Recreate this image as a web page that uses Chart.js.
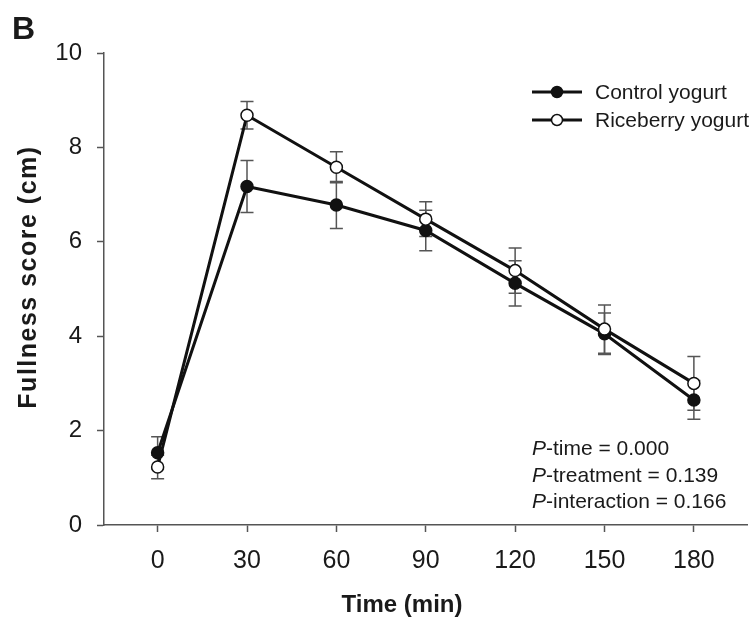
<!DOCTYPE html>
<html>
<head>
<meta charset="utf-8">
<script src="https://cdn.jsdelivr.net/npm/chart.js@4/dist/chart.umd.min.js"></script>
<style>
  body { margin: 0; background: #fff; }
  #fullness { display: block; }
</style>
</head>
<body>
<canvas id="fullness" width="755" height="620"></canvas>
<script>
// time points (min) and fullness scores (mean ± SE)
const times = [0, 30, 60, 90, 120, 150, 180];
const controlMean = [1.53, 7.17, 6.78, 6.24, 5.12, 4.05, 2.65];
const controlSE = [0.34, 0.55, 0.50, 0.43, 0.48, 0.44, 0.41];
const riceMean = [1.23, 8.68, 7.58, 6.48, 5.39, 4.15, 3.00];
const riceSE = [0.25, 0.29, 0.33, 0.37, 0.48, 0.51, 0.57];
const yTicks = [0, 2, 4, 6, 8, 10];
const seriesNames = ['Control yogurt', 'Riceberry yogurt'];
const xTitle = 'Time (min)';
const yTitle = 'Fullness score (cm)';
const pValues = [
    ['P', '-time = 0.000'],
    ['P', '-treatment = 0.139'],
    ['P', '-interaction = 0.166'],
];

const FONT = '"Liberation Sans", Arial, sans-serif';
const INK = '#111';
const TEXT = '#1a1a1a';
const AXIS = '#555';

const toPoints = (means) => times.map((t, i) => ({ x: t, y: means[i] }));

// SE whiskers with caps, drawn under the lines and markers
const errorBars = {
    id: 'errorBars',
    beforeDatasetsDraw(chart) {
        const { ctx, scales: { x, y } } = chart;
        const groups = [[controlMean, controlSE], [riceMean, riceSE]];
        ctx.save();
        ctx.strokeStyle = AXIS;
        ctx.lineWidth = 1.5;
        groups.forEach(([mean, se]) => {
            times.forEach((t, i) => {
                const px = x.getPixelForValue(t);
                const top = y.getPixelForValue(mean[i] + se[i]);
                const bot = y.getPixelForValue(mean[i] - se[i]);
                ctx.beginPath();
                ctx.moveTo(px, top); ctx.lineTo(px, bot);
                ctx.moveTo(px - 6.5, top); ctx.lineTo(px + 6.5, top);
                ctx.moveTo(px - 6.5, bot); ctx.lineTo(px + 6.5, bot);
                ctx.stroke();
            });
        });
        ctx.restore();
    }
};

// panel letter, axis titles, legend and the statistics block
const annotations = {
    id: 'annotations',
    afterDraw(chart) {
        const { ctx } = chart;
        ctx.save();
        ctx.fillStyle = TEXT;
        ctx.textBaseline = 'alphabetic';
        ctx.textAlign = 'left';
        ctx.font = 'bold 32px ' + FONT;
        ctx.fillText('B', 12, 39);

        // axis titles
        ctx.textAlign = 'center';
        ctx.textBaseline = 'middle';
        ctx.font = 'bold 24px ' + FONT;
        ctx.fillText(xTitle, 402, 605);
        ctx.save();
        ctx.font = 'bold 25px ' + FONT;
        ctx.letterSpacing = '1.5px';
        ctx.translate(29, 277);
        ctx.rotate(-Math.PI / 2);
        ctx.fillText(yTitle, 0, 0);
        ctx.restore();

        // legend
        ctx.textAlign = 'left';
        ctx.font = '21px ' + FONT;
        chart.data.datasets.forEach((ds, i) => {
            const cy = 92 + i * 28;
            ctx.strokeStyle = INK;
            ctx.lineWidth = 3;
            ctx.beginPath();
            ctx.moveTo(532, cy); ctx.lineTo(582, cy);
            ctx.stroke();
            ctx.beginPath();
            ctx.arc(557, cy, 5.5, 0, Math.PI * 2);
            ctx.fillStyle = ds.pointBackgroundColor;
            ctx.fill();
            ctx.lineWidth = 1.5;
            ctx.stroke();
            ctx.fillStyle = TEXT;
            ctx.textBaseline = 'middle';
            ctx.fillText(seriesNames[i], 595, cy + 1);
        });

        // P values
        ctx.textBaseline = 'alphabetic';
        pValues.forEach(([p, rest], i) => {
            const by = 455 + i * 26.5;
            ctx.font = 'italic 21px ' + FONT;
            ctx.fillText(p, 532, by);
            const w = ctx.measureText(p).width;
            ctx.font = '21px ' + FONT;
            ctx.fillText(rest, 532 + w, by);
        });
        ctx.restore();
    }
};

new Chart(document.getElementById('fullness'), {
    type: 'line',
    data: {
        datasets: [
            {
                label: seriesNames[0],
                data: toPoints(controlMean),
                borderColor: INK,
                borderWidth: 3,
                pointRadius: 6,
                pointBorderWidth: 1.5,
                pointBorderColor: INK,
                pointBackgroundColor: INK,
                order: 2,
            },
            {
                label: seriesNames[1],
                data: toPoints(riceMean),
                borderColor: INK,
                borderWidth: 3,
                pointRadius: 6,
                pointBorderWidth: 1.5,
                pointBorderColor: INK,
                pointBackgroundColor: '#fff',
                order: 1,
            },
        ],
    },
    options: {
        responsive: false,
        animation: false,
        layout: { padding: { top: 53, right: 1, left: 0, bottom: 0 } },
        plugins: {
            legend: { display: false },
            tooltip: { enabled: false },
        },
        scales: {
            x: {
                type: 'linear',
                min: -18,
                max: 198,
                afterBuildTicks: (scale) => { scale.ticks = times.map((v) => ({ value: v })); },
                afterFit: (scale) => { scale.height = 95; },
                border: { display: true, color: AXIS, width: 1.5 },
                grid: { drawOnChartArea: false, drawTicks: true, tickLength: 7, tickWidth: 1.5, color: AXIS },
                ticks: { color: TEXT, font: { family: FONT, size: 25 }, padding: 14, maxRotation: 0 },
            },
            y: {
                min: 0,
                max: 10,
                afterBuildTicks: (scale) => { scale.ticks = yTicks.map((v) => ({ value: v })); },
                afterFit: (scale) => { scale.width = 104; },
                border: { display: true, color: AXIS, width: 1.5 },
                grid: { drawOnChartArea: false, drawTicks: true, tickLength: 7, tickWidth: 1.5, color: AXIS },
                ticks: { color: TEXT, font: { family: FONT, size: 24 }, padding: 15 },
            },
        },
    },
    plugins: [errorBars, annotations],
});
</script>
</body>
</html>
